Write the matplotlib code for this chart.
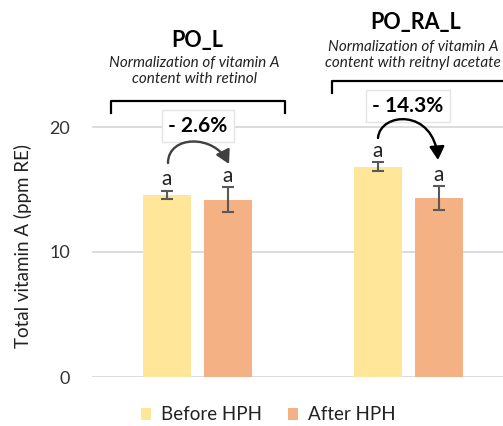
import numpy as np
import matplotlib.pyplot as plt
from matplotlib.patches import FancyArrowPatch
from matplotlib.path import Path

plt.rcParams['font.family'] = ['Lato', 'DejaVu Sans']

# --- data ---
groups = ['PO_L', 'PO_RA_L']
subtitles = ['Normalization of vitamin A\ncontent with retinol',
             'Normalization of vitamin A\ncontent with reitnyl acetate']
before = [14.56, 16.8]
before_err = [0.35, 0.36]
after = [14.16, 14.34]
after_err = [1.0, 0.95]
changes = ['- 2.6%', '- 14.3%']
letters_before = ['a', 'a']
letters_after = ['a', 'a']

YELLOW = '#FFE699'
ORANGE = '#F4B183'
GREY = '#595959'

fig = plt.figure(figsize=(5.03, 4.26), dpi=100)
ax = fig.add_axes([92 / 503, 49 / 426, 422 / 503, 377 / 426])

x = np.arange(len(groups))
off = 0.1445
w = 0.223

ax.bar(x - off, before, w, color=YELLOW, label='Before HPH', zorder=2)
ax.bar(x + off, after, w, color=ORANGE, label='After HPH', zorder=2)
ax.errorbar(x - off, before, yerr=before_err, fmt='none', ecolor=GREY,
            elinewidth=1.5, capsize=4, capthick=1.5, zorder=3)
ax.errorbar(x + off, after, yerr=after_err, fmt='none', ecolor=GREY,
            elinewidth=1.5, capsize=4, capthick=1.5, zorder=3)

for i in range(len(groups)):
    ax.text(x[i] - off, before[i] + before_err[i] + 0.1, letters_before[i],
            ha='center', va='bottom', fontsize=15, color='#222222')
    ax.text(x[i] + off, after[i] + after_err[i] + 0.1, letters_after[i],
            ha='center', va='bottom', fontsize=15, color='#222222')

ax.set_xlim(-0.5, 1.5)
ax.set_ylim(0, 30.16)
ax.set_yticks([0, 10, 20])
ax.yaxis.grid(True, color='#D9D9D9', linewidth=1.3, zorder=0)
ax.set_axisbelow(True)
ax.tick_params(axis='y', length=0, labelsize=13, labelcolor='#333333', pad=16)
ax.set_xticks([])
for s in ax.spines.values():
    s.set_visible(False)
ax.set_ylabel('Total vitamin A (ppm RE)', fontsize=13.5, color='#222222')
ax.yaxis.set_label_coords(-0.141, 0.347)

# --- annotations (pixel positions of the reference) ---
title_y = [40, 22]
sub_y = [71, 55]
bracket_y = [101, 81]
bracket_x = [(111, 285), (332, 560)]
box_y = [126, 106]
box_x = [198, 408]
cx = [197, 416]
arrow_paths = [
    [(168, 163), (168, 135), (214, 134), (229, 164)],
    [(378, 138), (380, 112), (434, 108), (438, 160)],
]
arrow_cols = ['#404040', 'black']


def fx(px):
    return px / 503


def fy(py):
    return 1 - py / 426


for i in range(len(groups)):
    fig.text(fx(cx[i]), fy(title_y[i]), groups[i], ha='center', va='center',
             fontsize=15.5, fontweight='bold', color='black')
    fig.text(fx(cx[i] - 3), fy(sub_y[i]), subtitles[i], ha='center', va='center',
             fontsize=11, style='italic', color='#222222', linespacing=1.2)
    x0, x1 = bracket_x[i]
    yb = bracket_y[i]
    fig.add_artist(plt.Line2D([fx(x0), fx(x0), fx(x1), fx(x1)],
                              [fy(yb + 12), fy(yb), fy(yb), fy(yb + 12)],
                              color='black', linewidth=1.6))
    fig.text(fx(box_x[i]), fy(box_y[i]), changes[i],
             ha='center', va='center', fontsize=15, fontweight='bold', color='black',
             bbox=dict(boxstyle='square,pad=0.3', facecolor='white',
                       edgecolor='#E4E4E4', linewidth=1), zorder=5)
    pts = [(fx(px), fy(py)) for px, py in arrow_paths[i]]
    path = Path(pts, [Path.MOVETO, Path.CURVE4, Path.CURVE4, Path.CURVE4])
    arr = FancyArrowPatch(path=path, transform=fig.transFigure,
                          arrowstyle='-|>,head_length=8,head_width=4.5',
                          color=arrow_cols[i], linewidth=1.7, zorder=6)
    fig.add_artist(arr)

fig.legend(loc='center', bbox_to_anchor=(fx(268), fy(415)), ncol=2, frameon=False,
           fontsize=13.5, handlelength=0.55, handleheight=0.55, columnspacing=1.4,
           handletextpad=0.5, labelcolor='#222222', borderpad=0.1)

fig.savefig('out.png', dpi=100)
